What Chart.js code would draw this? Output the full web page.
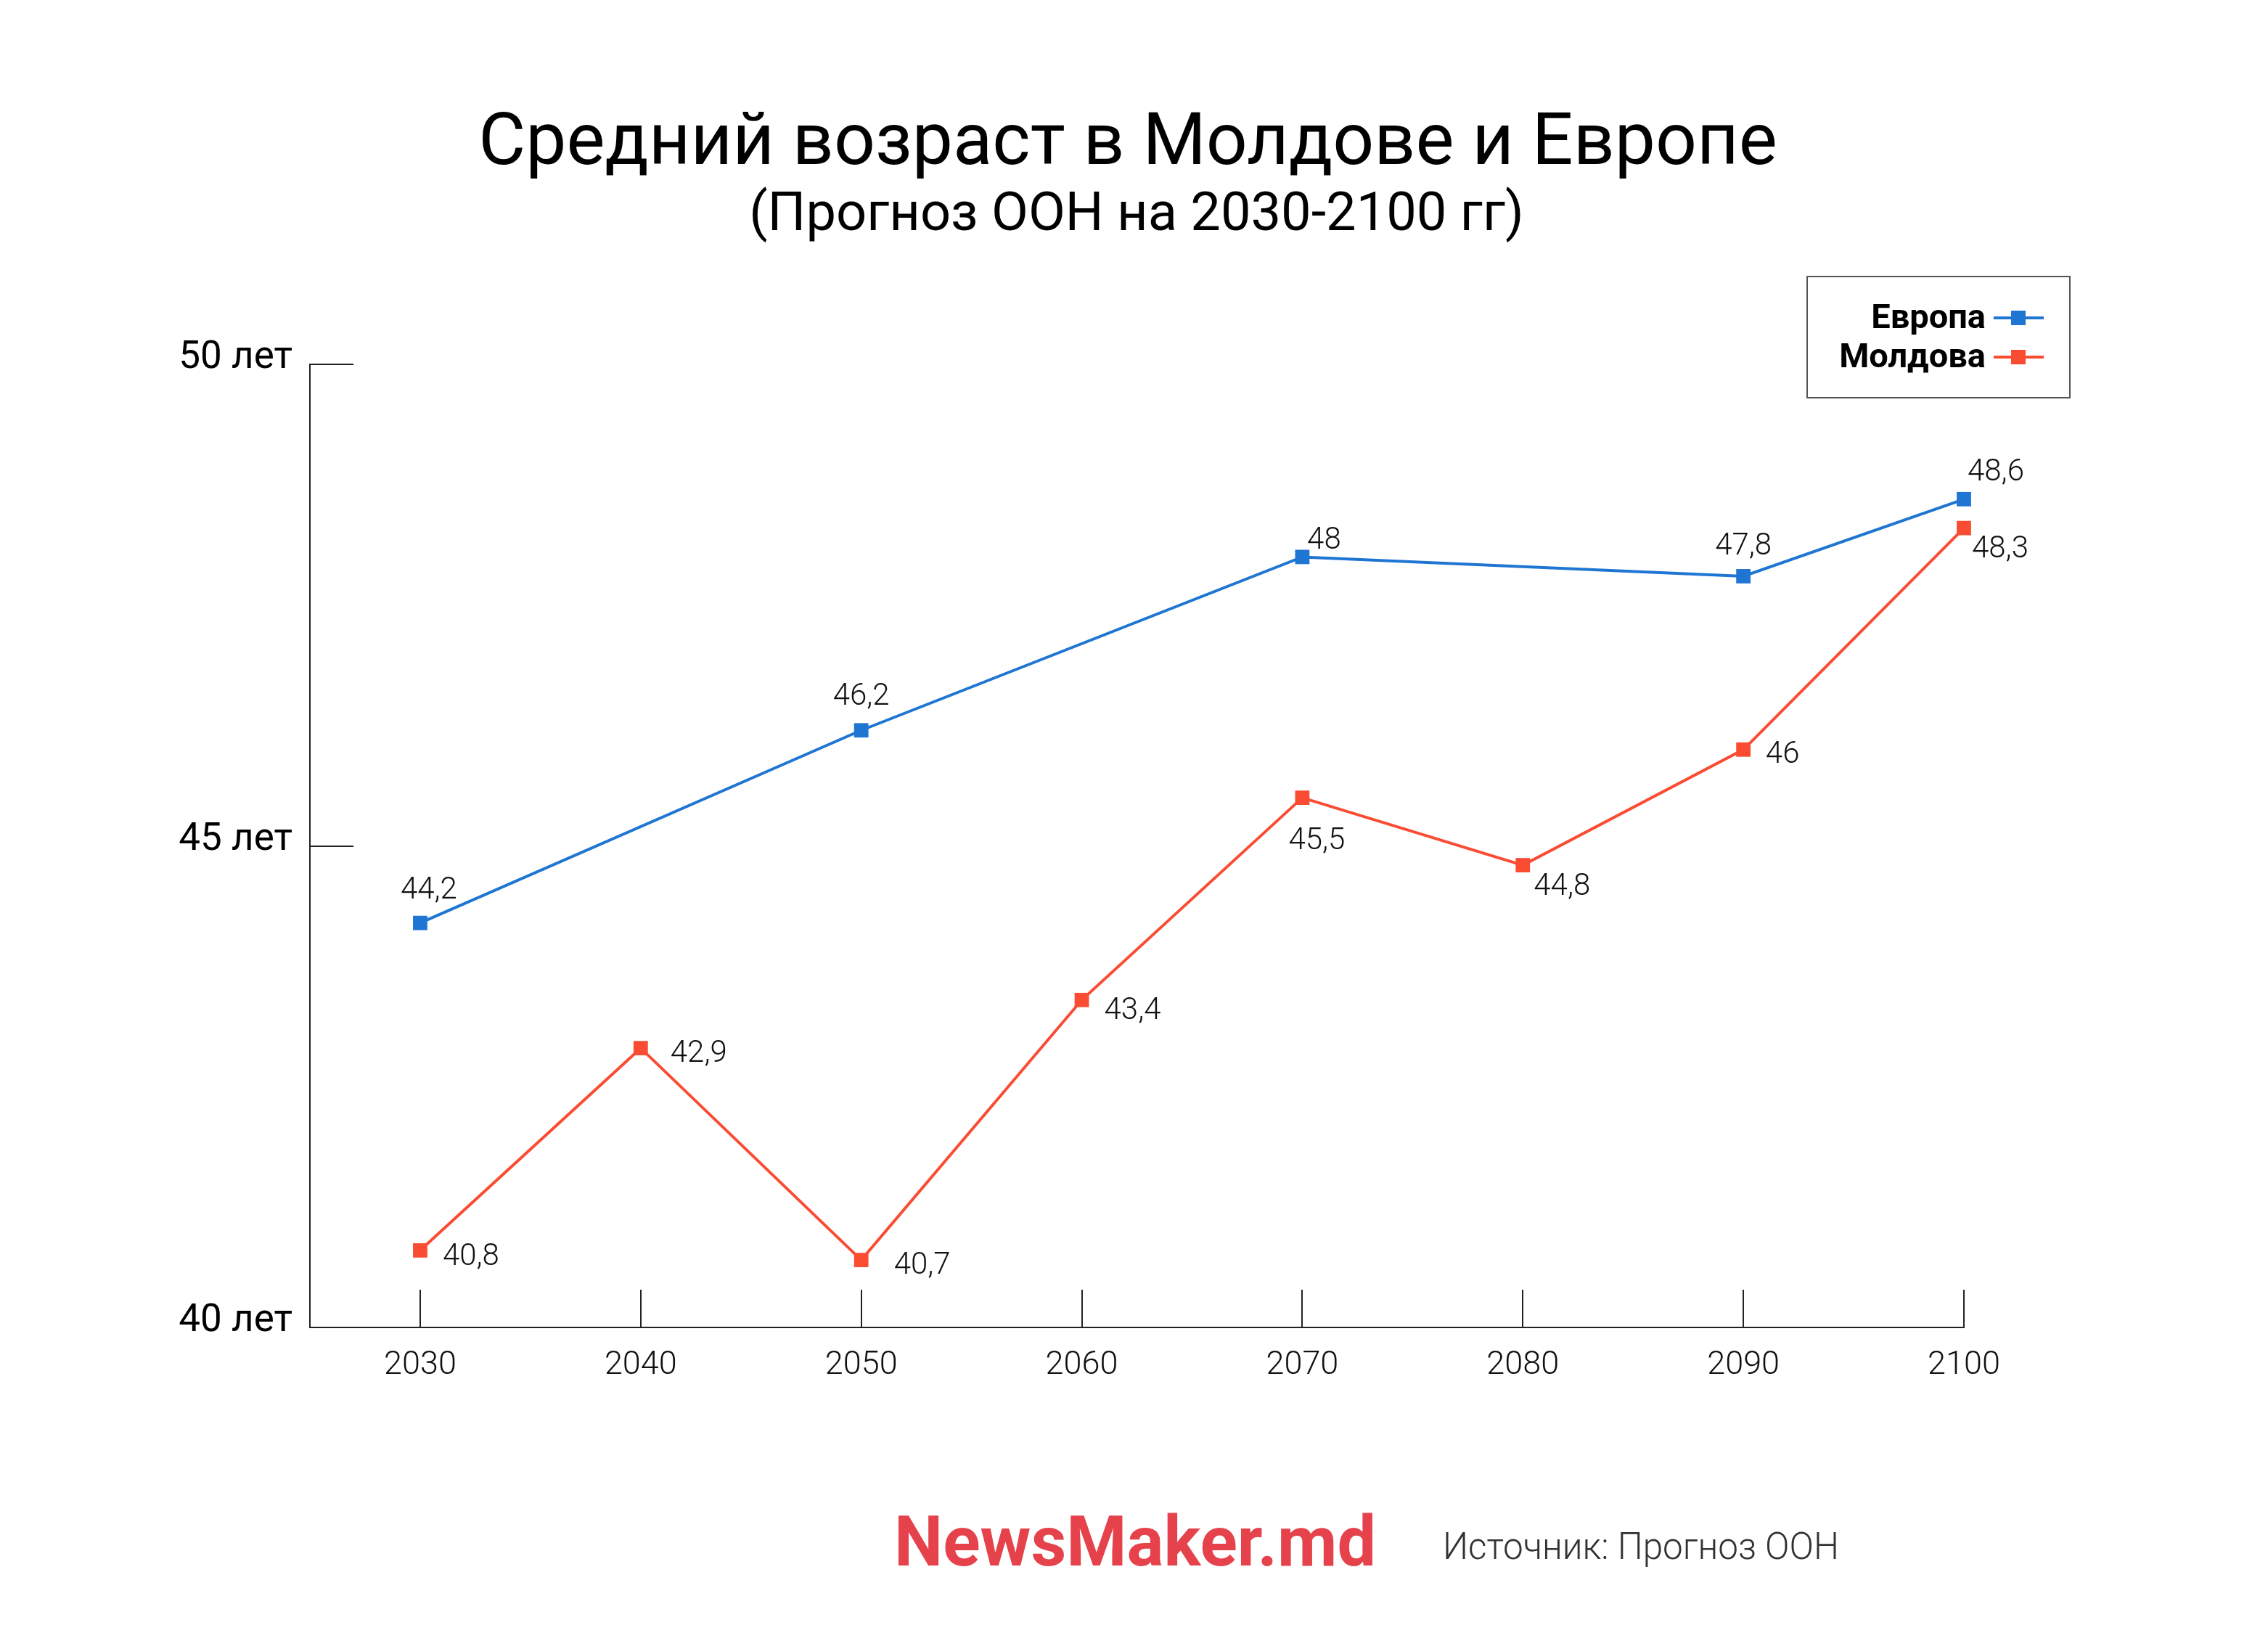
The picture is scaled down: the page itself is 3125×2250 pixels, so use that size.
<!DOCTYPE html>
<html><head><meta charset="utf-8">
<script src="https://cdn.jsdelivr.net/npm/chart.js@4"></script>
<style>html,body{margin:0;padding:0;background:#fff;} canvas{display:block}</style>
</head><body>
<canvas id="c" width="3125" height="2250" style="width:3125px;height:2250px"></canvas>
<script>
const years = [2030, 2040, 2050, 2060, 2070, 2080, 2090, 2100];
const europeYears = [2030, 2050, 2070, 2090, 2100];
const europeValues = [44.2, 46.2, 48, 47.8, 48.6];
const moldovaValues = [40.8, 42.9, 40.7, 43.4, 45.5, 44.8, 46, 48.3];
const yTicks = [40, 45, 50];
const seriesNames = ['Европа', 'Молдова'];
const titleText = 'Средний возраст в Молдове и Европе';
const subtitleText = '(Прогноз ООН на 2030-2100 гг)';
const brandText = 'NewsMaker.md';
const sourceText = 'Источник: Прогноз ООН';

// label placement offsets (layout only, px)
const europeLabelOffsets = [[12,-44],[0,-46],[30,-22],[0,-40],[44,-36]];
const moldovaLabelOffsets = [[70,10],[80,8],[84,8],[70,16],[20,60],[54,30],[54,8],[50,30]];

const BLUE = '#1f76d2';
const RED = '#fa4c33';
const AXIS = '#222';

const fmt = v => String(v).replace('.', ',');

const europeData = europeYears.map((x, i) => ({x, y: europeValues[i]}));
const moldovaData = years.map((x, i) => ({x, y: moldovaValues[i]}));

const decor = {
  id: 'decor',
  afterDraw(chart) {
    const ctx = chart.ctx;
    const area = chart.chartArea;
    const xs = chart.scales.x, ys = chart.scales.y;
    ctx.save();
    // inner tick marks
    ctx.strokeStyle = AXIS; ctx.lineWidth = 2;
    ys.ticks.forEach((t, i) => {
      const y = Math.round(ys.getPixelForTick(i));
      ctx.beginPath(); ctx.moveTo(area.left, y); ctx.lineTo(area.left + 60, y); ctx.stroke();
    });
    xs.ticks.forEach((t, i) => {
      const x = Math.round(xs.getPixelForTick(i));
      ctx.beginPath(); ctx.moveTo(x, area.bottom); ctx.lineTo(x, area.bottom - 52); ctx.stroke();
    });
    // title
    ctx.fillStyle = '#000';
    ctx.textAlign = 'center'; ctx.textBaseline = 'alphabetic';
    ctx.font = '400 100px Roboto';
    ctx.fillText(titleText, 1554, 226);
    ctx.font = '400 74px Roboto';
    ctx.fillText(subtitleText, 1566, 317);
    // legend
    ctx.strokeStyle = '#555'; ctx.lineWidth = 2;
    ctx.strokeRect(2490, 381, 362, 167);
    const rows = [438, 492];
    chart.data.datasets.forEach((ds, i) => {
      const y = rows[i];
      ctx.font = '700 47px Roboto';
      ctx.fillStyle = '#000';
      ctx.textAlign = 'right'; ctx.textBaseline = 'middle';
      ctx.fillText(ds.label, 2736, y + 2);
      ctx.strokeStyle = ds.borderColor; ctx.lineWidth = 4;
      ctx.beginPath(); ctx.moveTo(2747, y); ctx.lineTo(2816, y); ctx.stroke();
      ctx.fillStyle = ds.borderColor;
      ctx.fillRect(2771, y - 10, 20, 20);
    });
    // data labels
    ctx.font = '300 42px Roboto';
    ctx.fillStyle = '#111';
    ctx.textAlign = 'center'; ctx.textBaseline = 'middle';
    const offs = [europeLabelOffsets, moldovaLabelOffsets];
    chart.data.datasets.forEach((ds, di) => {
      const meta = chart.getDatasetMeta(di);
      meta.data.forEach((pt, i) => {
        const o = offs[di][i];
        ctx.fillText(fmt(ds.data[i].y), pt.x + o[0], pt.y + o[1]);
      });
    });
    // footer
    ctx.textAlign = 'left'; ctx.textBaseline = 'alphabetic';
    ctx.fillStyle = '#e5424b';
    ctx.font = '700 96px Roboto';
    ctx.fillText(brandText, 1232, 2157, 664);
    ctx.fillStyle = '#333';
    ctx.font = '300 52px Roboto';
    ctx.fillText(sourceText, 1988, 2148, 546);
    ctx.restore();
  }
};

new Chart(document.getElementById('c'), {
  type: 'line',
  data: {
    datasets: [
      { label: seriesNames[0], data: europeData, borderColor: BLUE, backgroundColor: BLUE,
        borderWidth: 4, pointStyle: 'rect', pointRadius: 14, pointBorderWidth: 0, tension: 0, clip: false },
      { label: seriesNames[1], data: moldovaData, borderColor: RED, backgroundColor: RED,
        borderWidth: 4, pointStyle: 'rect', pointRadius: 14, pointBorderWidth: 0, tension: 0, clip: false }
    ]
  },
  options: {
    responsive: false,
    animation: false,
    devicePixelRatio: 1,
    layout: { padding: { top: 502, right: 419, bottom: 0, left: 0 } },
    plugins: { legend: { display: false }, title: { display: false }, tooltip: { enabled: false } },
    scales: {
      x: {
        type: 'linear', min: 2025, max: 2100,
        afterBuildTicks: s => { s.ticks = years.map(v => ({value: v})); },
        afterFit: s => { s.height = 421; },
        grid: { display: false, drawTicks: false },
        border: { display: true, color: AXIS, width: 2 },
        ticks: { callback: v => String(v), padding: 26, color: '#111', font: { family: 'Roboto', size: 45, weight: '300' }, maxRotation: 0 }
      },
      y: {
        type: 'linear', min: 40, max: 50,
        afterBuildTicks: s => { s.ticks = yTicks.map(v => ({value: v})); },
        afterFit: s => { s.width = 427; },
        grid: { display: false, drawTicks: false },
        border: { display: true, color: AXIS, width: 2 },
        ticks: { callback: v => v + ' лет', padding: 24, labelOffset: -8, color: '#000', font: { family: 'Roboto', size: 53, weight: '400' } }
      }
    }
  },
  plugins: [decor]
});
</script>
</body></html>
